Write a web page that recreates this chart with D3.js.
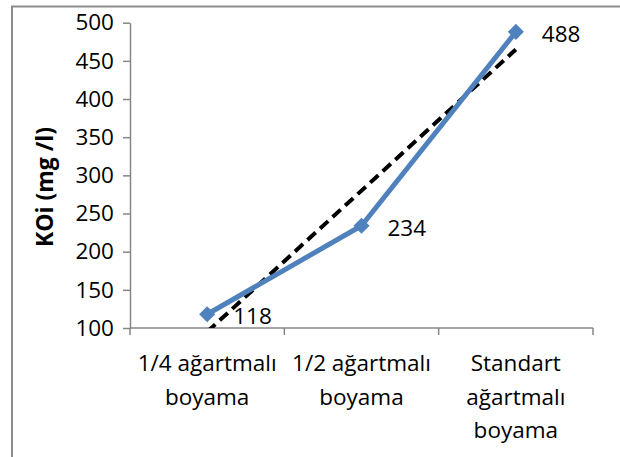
<!DOCTYPE html>
<html>
<head>
<meta charset="utf-8">
<script src="https://cdn.jsdelivr.net/npm/d3@7"></script>
<style>
body { margin: 0; background: #fff; }
text { font-family: "Open Sans", "Noto Sans", sans-serif; }
</style>
</head>
<body>
<div id="chart"></div>
<script>
var categories = [["1/4 ağartmalı", "boyama"], ["1/2 ağartmalı", "boyama"], ["Standart", "ağartmalı", "boyama"]];
var values = [118, 234, 488];
var y_ticks = [100, 150, 200, 250, 300, 350, 400, 450, 500];

var width = 620, height = 457;
var plot_left = 130, plot_right = 593, plot_top = 22.7, plot_bottom = 328;
var font_size = "22.5px";

var svg = d3.select("#chart").append("svg")
    .attr("width", width)
    .attr("height", height);

// outer frame (only left and top edges are visible)
svg.append("rect")
    .attr("x", 12).attr("y", 6.5)
    .attr("width", 700).attr("height", 600)
    .style("fill", "none")
    .style("stroke", "#8c8c8c")
    .style("stroke-width", 2);

var x = d3.scaleBand().domain(d3.range(categories.length)).range([plot_left, plot_right]);
var y = d3.scaleLinear().domain([100, 500]).range([plot_bottom, plot_top]);

function cx(i) { return x(i) + x.bandwidth() / 2; }

// y axis
var yAxis = svg.append("g")
    .attr("transform", "translate(" + plot_left + ",0)")
    .call(d3.axisLeft(y).tickValues(y_ticks).tickSize(7).tickPadding(9).tickSizeOuter(0));
yAxis.select(".domain").style("stroke", "#868686").style("stroke-width", 1.5);
yAxis.selectAll(".tick line").style("stroke", "#868686").style("stroke-width", 1.5);
yAxis.selectAll(".tick text").style("font-size", font_size).style("fill", "#000")
    .style("font-family", "'Open Sans', sans-serif");

// x axis
svg.append("line")
    .attr("x1", plot_left).attr("x2", plot_right)
    .attr("y1", plot_bottom).attr("y2", plot_bottom)
    .style("stroke", "#868686").style("stroke-width", 1.5);
var xticks = d3.range(categories.length + 1).map(function(i) { return plot_left + i * x.bandwidth(); });
svg.selectAll(".xtick").data(xticks).enter().append("line")
    .attr("x1", function(d) { return d; }).attr("x2", function(d) { return d; })
    .attr("y1", plot_bottom).attr("y2", plot_bottom + 7)
    .style("stroke", "#868686").style("stroke-width", 1.5);

var xl = svg.selectAll(".xlabel").data(categories).enter().append("text")
    .attr("text-anchor", "middle")
    .style("font-size", font_size);
xl.each(function(d, i) {
    d3.select(this).selectAll("tspan").data(d).enter().append("tspan")
        .attr("x", cx(i))
        .attr("y", function(s, j) { return 371 + j * 33.5; })
        .text(function(s) { return s; });
});

// y title
svg.append("text")
    .attr("transform", "translate(53,187) rotate(-90)")
    .attr("text-anchor", "middle")
    .style("font-size", "23px")
    .style("font-weight", "bold")
    .text("KOi (mg /l)");

// linear trend line
var xs = [1, 2, 3];
var mx = d3.mean(xs), my = d3.mean(values);
var slope = d3.sum(xs, function(v, i) { return (v - mx) * (values[i] - my); }) /
            d3.sum(xs, function(v) { return (v - mx) * (v - mx); });
var icpt = my - slope * mx;
var xlin = d3.scaleLinear().domain([1, 3]).range([cx(0), cx(2)]);

svg.append("clipPath").attr("id", "plot")
    .append("rect").attr("x", plot_left).attr("y", plot_top - 20)
    .attr("width", plot_right - plot_left).attr("height", plot_bottom - plot_top + 20);

svg.append("line")
    .attr("clip-path", "url(#plot)")
    .attr("x1", xlin(1)).attr("y1", y(icpt + slope * 1))
    .attr("x2", xlin(3)).attr("y2", y(icpt + slope * 3))
    .style("stroke", "#000")
    .style("stroke-width", 4)
    .style("stroke-dasharray", "11,6");

// data line
var line = d3.line()
    .x(function(d, i) { return cx(i); })
    .y(function(d) { return y(d); });

svg.append("path")
    .datum(values)
    .attr("d", line)
    .style("fill", "none")
    .style("stroke", "#4f81bd")
    .style("stroke-width", 5)
    .style("stroke-linejoin", "round");

svg.selectAll(".marker").data(values).enter().append("path")
    .attr("d", d3.symbol().type(d3.symbolSquare).size(130))
    .attr("transform", function(d, i) { return "translate(" + cx(i) + "," + y(d) + ") rotate(45)"; })
    .style("fill", "#4f81bd");

svg.selectAll(".label").data(values).enter().append("text")
    .attr("x", function(d, i) { return cx(i) + 26; })
    .attr("y", function(d) { return y(d) + 10; })
    .style("font-size", font_size)
    .text(function(d) { return d; });
</script>
</body>
</html>
